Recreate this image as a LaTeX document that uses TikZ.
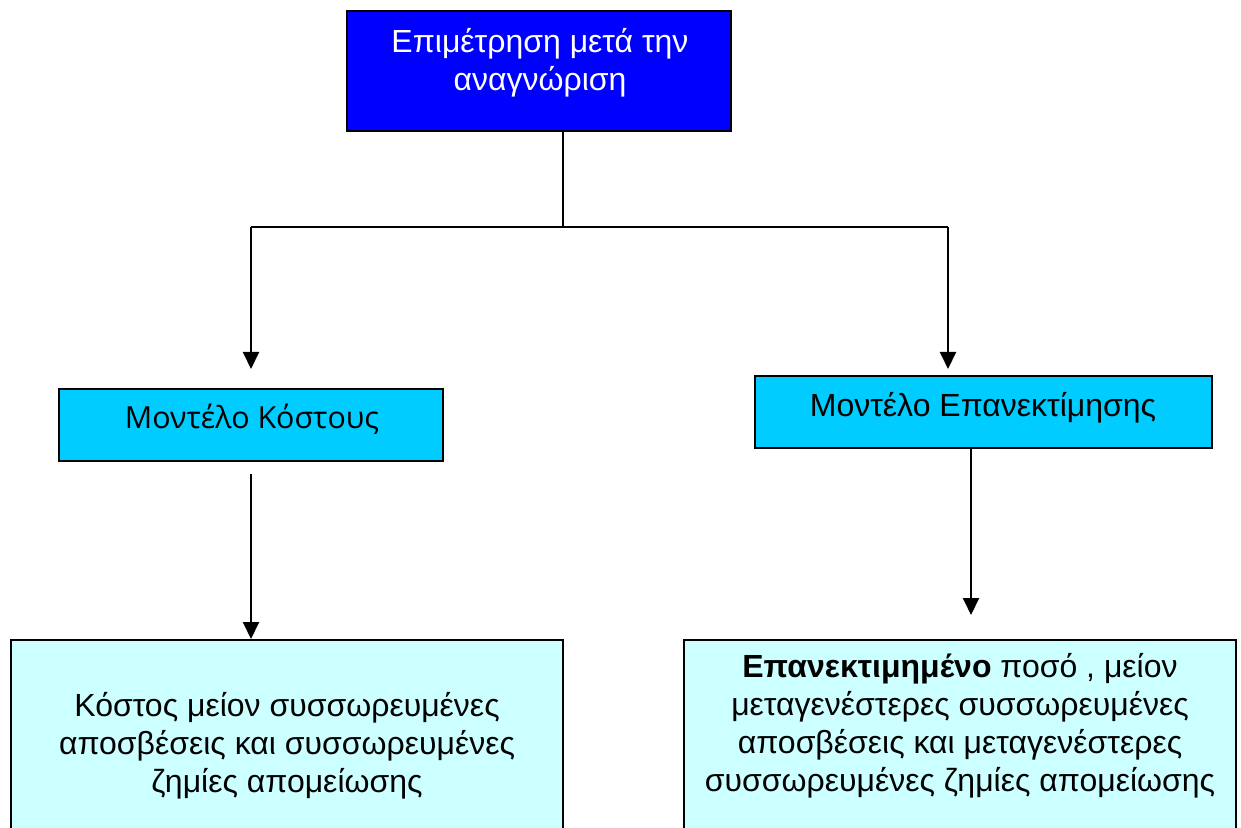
\documentclass[tikz,border=0pt]{standalone}
\usepackage{fontspec}
\setmainfont{Liberation Sans}
\newfontfamily\opensans{Open Sans}
\usetikzlibrary{arrows.meta}
\definecolor{topblue}{RGB}{0,0,255}
\definecolor{midblue}{RGB}{0,204,255}
\definecolor{paleblue}{RGB}{204,255,255}
\begin{document}
\begin{tikzpicture}[x=0.5pt,y=-0.5pt,
  box/.style={draw=black, line width=1pt, rectangle, inner sep=0pt},
  txt/.style={align=center, font=\fontsize{16}{19}\selectfont, inner sep=0pt},
  conn/.style={line width=1pt, draw=black},
  arr/.style={conn, -{Triangle[length=8.5pt,width=8pt]}}]
\useasboundingbox (0,0) rectangle (1241,828);
\clip (0,0) rectangle (1241,828);

% boxes
\node[box, fill=topblue, minimum width=192pt, minimum height=60pt] (top) at (539,71) {};
\node[txt, text=white] (toptxt) at (540,63) {Επιμέτρηση μετά την\\αναγνώριση};

\node[box, fill=midblue, minimum width=192pt, minimum height=36pt] (ml) at (251,425) {};
\node[txt, font=\opensans\fontsize{15.2}{18}\selectfont] (mltxt) at (252,419) {Μοντέλο Κόστους};

\node[box, fill=midblue, minimum width=228.5pt, minimum height=36pt] (mr) at (983.5,412) {};
\node[txt] (mrtxt) at (983,408) {Μοντέλο Επανεκτίμησης};

\node[box, fill=paleblue, minimum width=276pt, minimum height=130pt] (bl) at (287,770) {};
\node[txt] (bltxt) at (287,746) {Κόστος μείον συσσωρευμένες\\αποσβέσεις και συσσωρευμένες\\ζημίες απομείωσης};

\node[box, fill=paleblue, minimum width=276pt, minimum height=130pt] (br) at (960,770) {};
\node[txt] (brtxt) at (960,726) {\textbf{Επανεκτιμημένο} ποσό , μείον\\μεταγενέστερες συσσωρευμένες\\αποσβέσεις και μεταγενέστερες\\συσσωρευμένες ζημίες απομείωσης};

% connectors
\coordinate (j) at (563,227);
\coordinate (jl) at (251,227);
\coordinate (jr) at (948,227);
\coordinate (rd) at (971,615);
\draw[conn] (top.south -| j) -- (j);
\draw[conn] (jl) -- (jr);
\draw[arr, shorten >=9.5pt] (jl) -- (ml.north);
\draw[arr, shorten >=3pt] (jr) -- (jr |- mr.north);
\draw[arr, shorten <=6pt] (ml.south) -- (ml.south |- bl.north);
\draw[arr] (mr.south -| rd) -- (rd);
\end{tikzpicture}
\end{document}
